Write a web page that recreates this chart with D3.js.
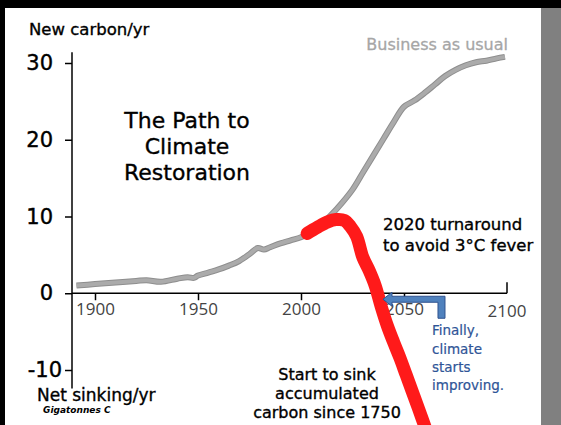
<!DOCTYPE html>
<html>
<head>
<meta charset="utf-8">
<script src="https://cdn.jsdelivr.net/npm/d3@7"></script>
<style>
  body { margin: 0; background: #fff; }
  svg { display: block; }
</style>
</head>
<body>
<svg id="chart" width="561" height="425"></svg>
<script>
// business as usual emissions (grey)
var bauYears  = [1891,1900,1910,1920,1925,1932,1940,1945,1948,1950,1955,1960,1965,1970,1975,1979,1982,1985,1990,1995,2000,2005,2010,2015,2020,2025,2030,2035,2040,2045,2050,2055,2060,2065,2070,2075,2080,2085,2090,2095,2099];
var bauValues = [1.0,1.2,1.4,1.6,1.7,1.5,1.9,2.1,2.0,2.3,2.7,3.1,3.6,4.2,5.1,5.9,5.7,6.0,6.5,6.9,7.3,8.0,9.0,10.3,11.8,13.5,15.7,17.9,20.1,22.3,24.3,25.1,26.1,27.2,28.3,29.1,29.7,30.1,30.3,30.6,30.8];
// restoration path (red)
var pathYears  = [2003,2008,2013,2017,2021,2024,2027,2030,2033,2036,2039,2042,2045,2048,2051,2054,2057,2061];
var pathValues = [7.8,8.6,9.3,9.6,9.5,8.7,7.4,4.7,3.0,1.0,-1.8,-4.3,-6.4,-8.4,-10.6,-12.8,-15.0,-18.0];

var xTicks = [1900,1950,2000,2050,2100];
var yTicks = [-10,0,10,20,30];

var FONT = "'DejaVu Sans', sans-serif";

var svg = d3.select("#chart");

// frame
svg.append("rect").attr("x",0).attr("y",0).attr("width",561).attr("height",425).attr("fill","#fff");
svg.append("rect").attr("x",0).attr("y",0).attr("width",561).attr("height",8).attr("fill","#000");
svg.append("rect").attr("x",0).attr("y",0).attr("width",5).attr("height",425).attr("fill","#000");
svg.append("rect").attr("x",541).attr("y",8).attr("width",20).attr("height",417).attr("fill","#808080");

var x = d3.scaleLinear().domain([1900,2100]).range([95,507]);
var y = d3.scaleLinear().domain([-10,30]).range([370,63]);

// y axis
var yAxis = svg.append("g").attr("transform","translate(72,0)")
    .call(d3.axisLeft(y).tickValues(yTicks).tickSize(7).tickPadding(12).tickSizeOuter(0).tickFormat(String));
yAxis.select(".domain").remove();
yAxis.append("line").attr("x1",0).attr("x2",0)
    .attr("y1",y(31.4)).attr("y2",y(-12.4))
    .attr("stroke","#000").attr("stroke-width",1.5);
yAxis.selectAll(".tick line").attr("stroke","#000").attr("stroke-width",1.5);
yAxis.selectAll(".tick text")
    .attr("font-family",FONT).attr("font-size",21).attr("fill","#000")
    .attr("stroke","#000").attr("stroke-width",0.4)
    .attr("dx", function(d){ return d < 0 ? 9 : 0; });

// x axis
var xAxis = svg.append("g").attr("transform","translate(0," + y(0) + ")")
    .call(d3.axisBottom(x).tickValues(xTicks.slice(0,4)).tickSize(7).tickPadding(8).tickFormat(String).tickSizeOuter(0));
xAxis.select(".domain").remove();
xAxis.append("line").attr("x1",72).attr("x2",x(2100)).attr("y1",0).attr("y2",0)
    .attr("stroke","#000").attr("stroke-width",1.5);
xAxis.append("line").attr("x1",x(2100)).attr("x2",x(2100)).attr("y1",-11).attr("y2",0)
    .attr("stroke","#000").attr("stroke-width",1.5);
xAxis.append("text").attr("x",x(2100)).attr("y",24).attr("text-anchor","middle")
    .text(String(xTicks[4]));
xAxis.selectAll(".tick line").attr("stroke","#000").attr("stroke-width",1.5);
xAxis.selectAll("text")
    .attr("font-family","'Open Sans', sans-serif").attr("font-size",17).attr("fill","#444");
xAxis.selectAll(".tick text").attr("dy","0.71em").attr("y",10);

// lines
var bau = bauYears.map(function(d,i){ return [d, bauValues[i]]; });
var red = pathYears.map(function(d,i){ return [d, pathValues[i]]; });
var line = d3.line().x(function(d){ return x(d[0]); }).y(function(d){ return y(d[1]); })
    .curve(d3.curveCatmullRom);

svg.append("path").datum(bau).attr("d", line)
    .attr("fill","none").attr("stroke","#8e8e8e").attr("stroke-width",6).attr("stroke-linejoin","round");
svg.append("path").datum(bau).attr("d", line)
    .attr("fill","none").attr("stroke","#ababab").attr("stroke-width",4).attr("stroke-linejoin","round");
svg.append("path").datum(red).attr("d", line)
    .attr("fill","none").attr("stroke","#ff1a1a").attr("stroke-width",13)
    .attr("stroke-linejoin","round").attr("stroke-linecap","round");

// blue bent arrow
var ax = x(2039.8), ay = y(0) + 6;
var arrow = [
  [ax, ay],
  [ax+9, ay-7],
  [ax+9, ay-3],
  [ax+62, ay-3],
  [ax+62, ay+19],
  [ax+55, ay+19],
  [ax+55, ay+3],
  [ax+9, ay+3],
  [ax+9, ay+7]
];
svg.append("path").attr("d", d3.line()(arrow) + "Z")
    .attr("fill","#4f81bd").attr("stroke","#2f528f").attr("stroke-width",1);

// labels
function label(txt, px, py, size, opts){
  opts = opts || {};
  var fill = opts.fill || "#000";
  return svg.append("text").attr("x",px).attr("y",py)
    .attr("font-family", opts.family || FONT).attr("font-size",size)
    .attr("fill", fill)
    .attr("stroke", fill).attr("stroke-width", opts.sw === undefined ? 0.35 : opts.sw)
    .attr("text-anchor", opts.anchor || "start")
    .attr("font-style", opts.style || "normal")
    .attr("font-weight", opts.weight || "normal")
    .text(txt);
}

label("New carbon/yr", 29, 35, 16.5);
label("Net sinking/yr", 37, 401, 17);
label("Gigatonnes C", 43, 413, 9, {style:"italic", weight:"bold", sw:0});

label("The Path to", 187, 128, 22, {anchor:"middle"});
label("Climate", 187, 154, 22, {anchor:"middle"});
label("Restoration", 187, 180, 22, {anchor:"middle"});

label("Business as usual", 508, 50, 16, {anchor:"end", fill:"#a6a6a6", sw:0.3});

label("2020 turnaround", 383, 230, 16.5);
label("to avoid 3°C fever", 383, 251, 16.5);

label("Start to sink", 327, 380, 16, {anchor:"middle"});
label("accumulated", 327, 399, 16, {anchor:"middle"});
label("carbon since 1750", 327, 418, 16, {anchor:"middle"});

var blue = "#2f5597";
label("Finally,", 432, 335, 13.5, {fill:blue, sw:0.2});
label("climate", 432, 354, 13.5, {fill:blue, sw:0.2});
label("starts", 432, 372, 13.5, {fill:blue, sw:0.2});
label("improving.", 432, 390, 13.5, {fill:blue, sw:0.2});
</script>
</body>
</html>
